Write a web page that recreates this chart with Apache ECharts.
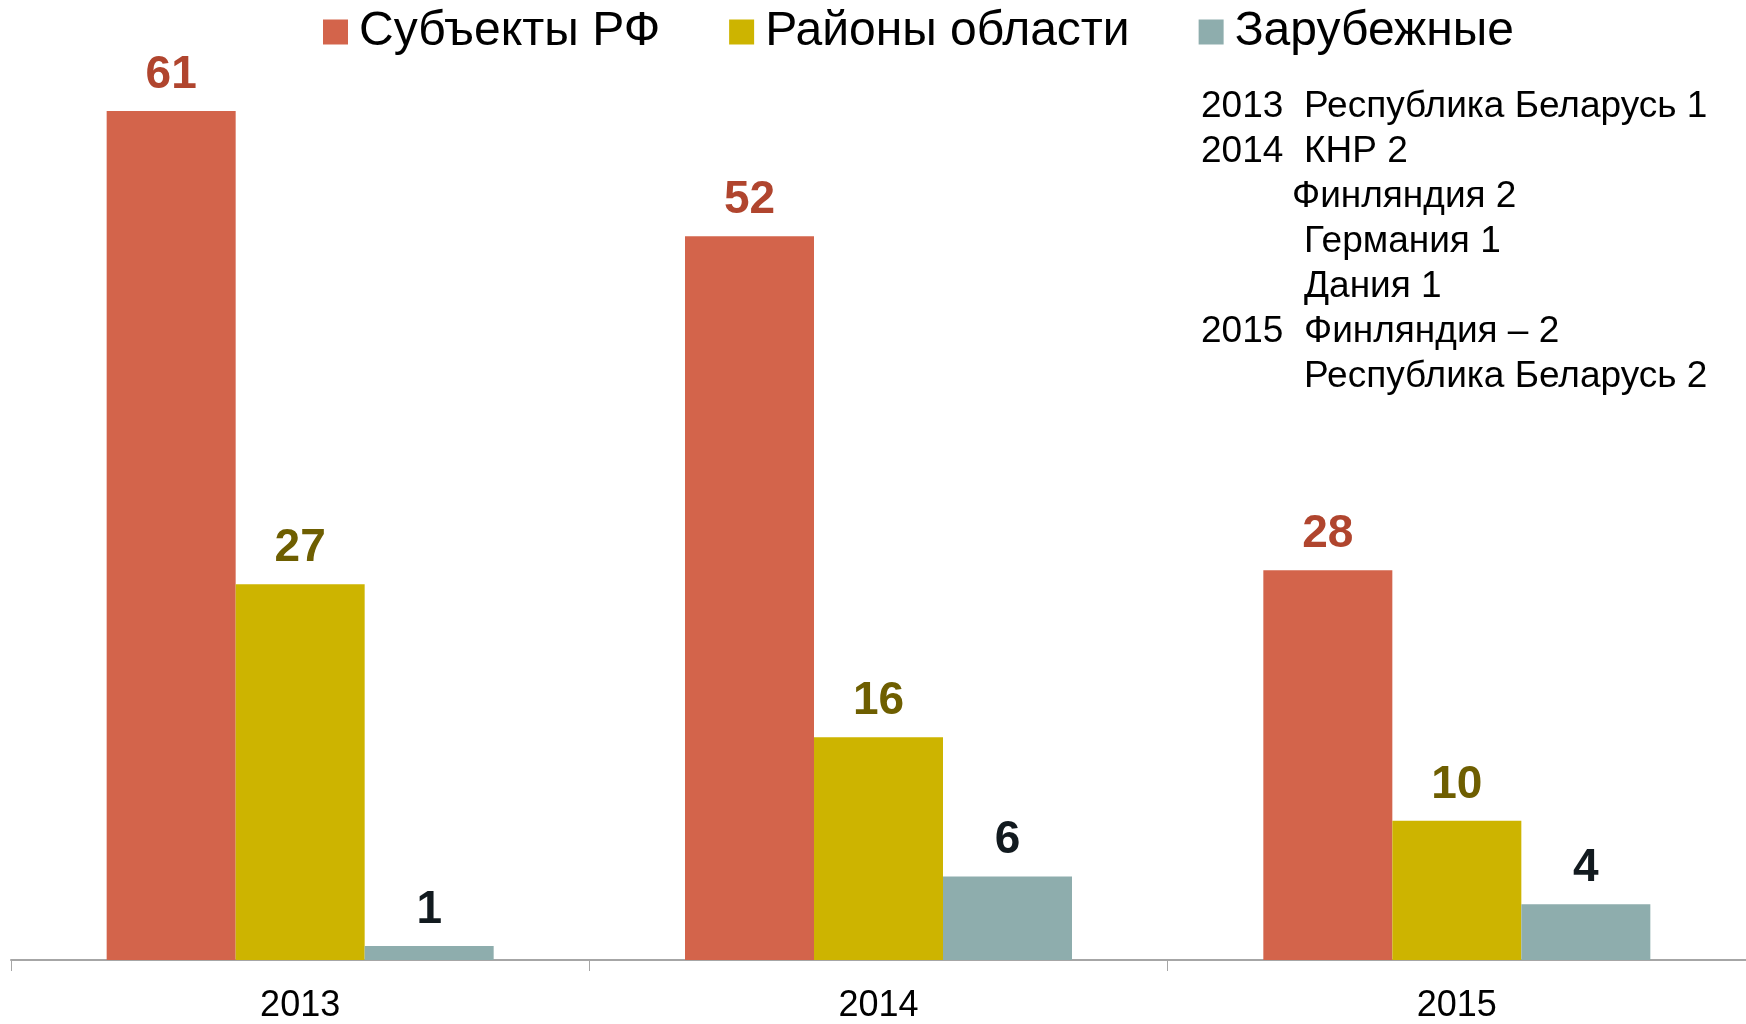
<!DOCTYPE html>
<html lang="ru">
<head>
    <meta charset="UTF-8">
    <title>Участники</title>
    <script src="https://cdn.jsdelivr.net/npm/echarts@6/dist/echarts.min.js"></script>
    <style>
        html, body { margin: 0; padding: 0; background: #fff; }
        #main { width: 1746px; height: 1024px; }
    </style>
</head>
<body>
<div id="main"></div>
<script>
    // данные
    var years = ['2013', '2014', '2015'];
    var subjectsRF = [61, 52, 28];
    var regionsObl = [27, 16, 10];
    var foreign = [1, 6, 4];
    var seriesNames = ['Субъекты РФ', 'Районы области', 'Зарубежные'];

    // примечание справа: [год, текст, сдвиг]
    var noteLines = [
        ['2013', 'Республика Беларусь 1', 0],
        ['2014', 'КНР 2', 0],
        ['', 'Финляндия 2', -12],
        ['', 'Германия 1', 0],
        ['', 'Дания 1', 0],
        ['2015', 'Финляндия – 2', 0],
        ['', 'Республика Беларусь 2', 0]
    ];

    var font = "'Liberation Sans', Arial, sans-serif";
    var myChart = echarts.init(document.getElementById('main'));

    var notes = [];
    noteLines.forEach(function (l, i) {
        var top = 88 + i * 45;
        if (l[0]) {
            notes.push({type: 'text', left: 1201, top: top,
                style: {text: l[0], font: '37px ' + font, fill: '#000'}});
        }
        notes.push({type: 'text', left: 1304 + l[2], top: top,
            style: {text: l[1], font: '37px ' + font, fill: '#000'}});
    });

    function bar(name, data, color, labelColor) {
        return {
            name: name,
            type: 'bar',
            data: data,
            barWidth: 129,
            barGap: '0%',
            itemStyle: {color: color},
            label: {
                show: true,
                position: 'top',
                distance: 13,
                fontFamily: font,
                fontSize: 46,
                fontWeight: 'bold',
                color: labelColor
            }
        };
    }

    option = {
        animation: false,
        textStyle: {fontFamily: font},
        legend: {
            data: seriesNames,
            left: 318,
            top: 3,
            icon: 'rect',
            itemWidth: 25,
            itemHeight: 25,
            itemGap: 69,
            textStyle: {fontSize: 48, color: '#000', fontFamily: font, padding: [0, 0, 0, 6]}
        },
        grid: {
            left: 11,
            right: 0,
            top: 55.4,
            bottom: 62.5,
            containLabel: false
        },
        xAxis: {
            type: 'category',
            data: years,
            axisLine: {lineStyle: {color: '#a6a6a6', width: 2}},
            axisTick: {show: true, alignWithLabel: false, interval: 0, length: 11, lineStyle: {color: '#a6a6a6', width: 1}},
            axisLabel: {fontSize: 36, color: '#000', margin: 28, fontFamily: font}
        },
        yAxis: {
            type: 'value',
            min: 0,
            max: 65,
            show: false,
            splitLine: {show: false}
        },
        graphic: notes,
        series: [
            bar(seriesNames[0], subjectsRF, '#d3644b', '#b0452e'),
            bar(seriesNames[1], regionsObl, '#cdb400', '#6e5e00'),
            bar(seriesNames[2], foreign, '#8eadad', '#121a1f')
        ]
    };

    myChart.setOption(option);
</script>
</body>
</html>
